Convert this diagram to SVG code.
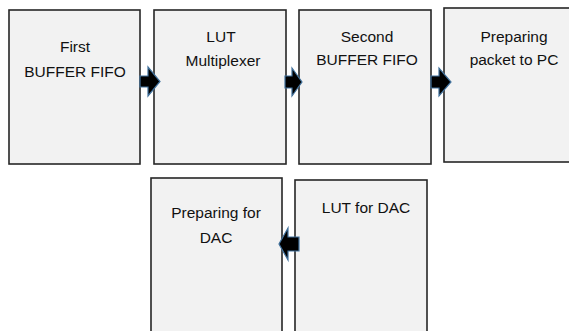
<svg xmlns="http://www.w3.org/2000/svg" width="569" height="331" viewBox="0 0 569 331">
<style>
.box{fill:#F2F2F2;stroke:#262626;stroke-width:1.6}
.arr{fill:#000;stroke:#41719C;stroke-width:1.2;stroke-linejoin:miter}
text{font-family:"Liberation Sans",Arial,sans-serif;font-size:15.5px;fill:#111;text-anchor:middle}
</style>
<rect width="569" height="331" fill="#fff"/>
<g id="n1"><rect class="box" x="9" y="10" width="131" height="154"/><text x="75" y="52">First</text><text x="75" y="77">BUFFER FIFO</text></g>
<g id="n2"><rect class="box" x="154" y="10" width="132" height="154"/><text x="221" y="42">LUT</text><text x="223" y="66">Multiplexer</text></g>
<g id="n3"><rect class="box" x="299" y="10" width="132" height="154"/><text x="367" y="42">Second</text><text x="367" y="65">BUFFER FIFO</text></g>
<g id="n4"><rect class="box" x="444" y="8" width="140" height="154"/><text x="514" y="42">Preparing</text><text x="514" y="65">packet to PC</text></g>
<g id="n5"><rect class="box" x="151" y="178" width="131" height="170"/><text x="216" y="218">Preparing for</text><text x="216" y="243">DAC</text></g>
<g id="n6"><rect class="box" x="295" y="180" width="132" height="170"/><text x="366" y="213">LUT for DAC</text></g>
<g id="connectors">
<path class="arr" d="M140,76 H148 V67 L160,81.5 L148,96 V87 H140 Z"/>
<path class="arr" d="M285,76 H292 V68 L302,82 L292,96 V88 H285 Z"/>
<path class="arr" d="M431,76 H439 V68 L451,82 L439,96 V88 H431 Z"/>
<path class="arr" d="M299,237 H288 V228 L279,244 L288,260 V251 H299 Z"/>
</g>
</svg>
